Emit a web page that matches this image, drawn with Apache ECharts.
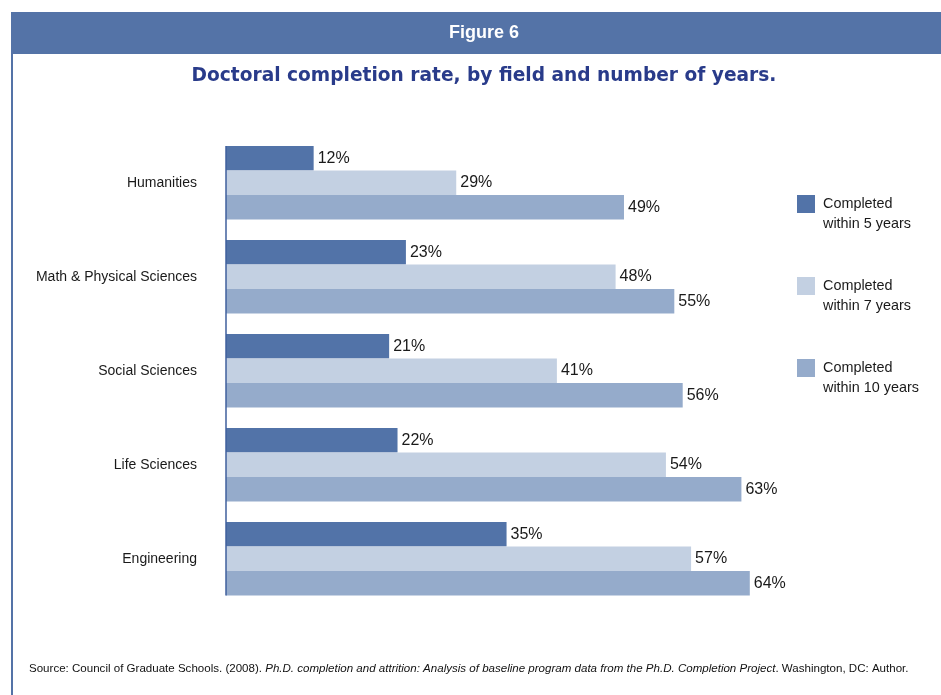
<!DOCTYPE html>
<html>
<head>
<meta charset="utf-8">
<script src="https://cdn.jsdelivr.net/npm/echarts@6/dist/echarts.min.js"></script>
<style>
html,body{margin:0;padding:0;background:#fff;}
#c{width:941px;height:695px;}
</style>
</head>
<body>
<div id="c"></div>
<script>
const categories = ['Humanities', 'Math & Physical Sciences', 'Social Sciences', 'Life Sciences', 'Engineering'];
const seriesNames = ['Completed\nwithin 5 years', 'Completed\nwithin 7 years', 'Completed\nwithin 10 years'];
const within5 = [12, 23, 21, 22, 35];
const within7 = [29, 48, 41, 54, 57];
const within10 = [49, 55, 56, 63, 64];
const colors = ['#5273a8', '#c3d0e2', '#95abcb'];

const SANS = '"Liberation Sans", Arial, Helvetica, sans-serif';
const X_MIN = 1.55, X_MAX = 80;

const chart = echarts.init(document.getElementById('c'), null, {renderer: 'canvas'});

function barSeries(i, data) {
  return {
    type: 'bar',
    name: seriesNames[i],
    data: data,
    barGap: '0%',
    barCategoryGap: '21.8%',
    itemStyle: {color: colors[i]},
    label: {
      show: true,
      position: 'right',
      distance: 4,
      formatter: '{c}%',
      fontFamily: SANS,
      fontSize: 16,
      color: '#1a1a1a'
    },
    emphasis: {disabled: true}
  };
}

const option = {
  animation: false,
  backgroundColor: '#ffffff',
  grid: {left: 226, top: 135.75, width: 658, height: 470, containLabel: false},
  xAxis: {
    type: 'value', min: X_MIN, max: X_MAX, show: false
  },
  yAxis: {
    type: 'category', data: categories, inverse: true,
    axisLine: {show: false}, axisTick: {show: false},
    axisLabel: {fontFamily: SANS, fontSize: 14, color: '#1a1a1a', margin: 29}
  },
  legend: {
    orient: 'vertical', left: 797, top: 174, padding: 0,
    itemWidth: 18, itemHeight: 18, itemGap: 22,
    icon: 'rect',
    selectedMode: false,
    formatter: function (name) { return '\n' + name; },
    textStyle: {fontFamily: SANS, fontSize: 14.4, lineHeight: 20, color: '#1a1a1a', padding: [0, 0, 0, 3]},
    data: seriesNames
  },
  series: [barSeries(0, within5), barSeries(1, within7), barSeries(2, within10)],
  graphic: [
    {type: 'rect', shape: {x: 11, y: 12, width: 935, height: 42}, style: {fill: '#5473a7'}, silent: true, z: 0},
    {type: 'rect', shape: {x: 11, y: 54, width: 2, height: 645}, style: {fill: '#5473a7'}, silent: true, z: 0},
    {type: 'text', x: 484, y: 33, style: {text: 'Figure 6', font: 'bold 18px ' + SANS, fill: '#ffffff', align: 'center', verticalAlign: 'middle'}, silent: true},
    {type: 'text', x: 484, y: 76, style: {text: 'Doctoral completion rate, by field and number of years.', font: 'bold 18.6px "DejaVu Sans", sans-serif', fill: '#293b8a', align: 'center', verticalAlign: 'middle'}, silent: true},
    {type: 'text', x: 29, y: 669, style: {
      text: '{n|Source: Council of Graduate Schools. (2008). }{i|Ph.D. completion and attrition: Analysis of baseline program data from the Ph.D. Completion Project}{n|. Washington, DC: Author.}',
      verticalAlign: 'middle', align: 'left',
      rich: {
        n: {fontFamily: SANS, fontSize: 11.55, fill: '#111'},
        i: {fontFamily: SANS, fontSize: 11.55, fontStyle: 'italic', fill: '#111'}
      }
    }, silent: true}
  ]
};
chart.setOption(option);

// vertical axis line spanning from first bar top to last bar bottom
const axisX = chart.convertToPixel({xAxisIndex: 0}, X_MIN);
const y0 = chart.convertToPixel({yAxisIndex: 0}, 0);
const y1 = chart.convertToPixel({yAxisIndex: 0}, 1);
const band = Math.abs(y1 - y0);
const half = band * (1 - 0.218) / 2;
const yFirst = y0 - half;
const yLast = chart.convertToPixel({yAxisIndex: 0}, categories.length - 1) + half;
option.graphic.push({type: 'line', shape: {x1: axisX, y1: yFirst, x2: axisX, y2: yLast}, style: {stroke: '#3f5f9c', lineWidth: 1.5}, z: 10, silent: true});
chart.setOption({graphic: option.graphic});
</script>
</body>
</html>
